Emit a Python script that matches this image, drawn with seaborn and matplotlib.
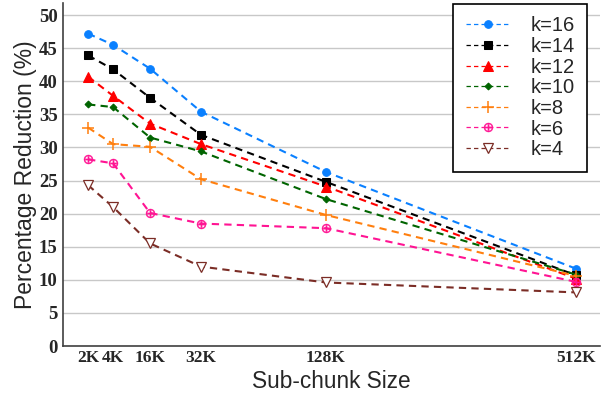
import numpy as np
import pandas as pd
import matplotlib
matplotlib.use("Agg")
import matplotlib.pyplot as plt
import seaborn as sns

# Data
sizes = ["2K", "4K", "16K", "32K", "128K", "512K"]
# horizontal placement of the size ticks on the axis (the original spacing is hand tuned)
x_pos = [25, 50, 87, 138, 263, 513]

k16 = [47.2, 45.5, 41.9, 35.4, 26.3, 11.7]
k14 = [43.9, 41.8, 37.5, 31.9, 24.8, 10.7]
k12 = [40.7, 37.8, 33.6, 30.5, 24.1, 10.2]
k10 = [36.5, 36.1, 31.5, 29.4, 22.2, 10.8]
k8 = [33.0, 30.5, 30.1, 25.2, 19.8, 10.6]
k6 = [28.2, 27.6, 20.1, 18.5, 17.8, 9.7]
k4 = [24.3, 21.0, 15.5, 12.0, 9.6, 8.1]

series = [
    ("k=16", k16, "#0a80ff", "o", dict(markersize=5.5)),
    ("k=14", k14, "black", "s", dict(markersize=5.5)),
    ("k=12", k12, "#ff0000", "^", dict(markersize=6.5)),
    ("k=10", k10, "#006400", "D", dict(markersize=3.5)),
    ("k=8", k8, "#ff7f0e", "+", dict(markersize=9, markeredgewidth=1.1)),
    ("k=6", k6, "#ff1493", r"$\oplus$", dict(markersize=6.5, markeredgewidth=0.3)),
    ("k=4", k4, "#7b2d26", "v", dict(markersize=7, markerfacecolor="white",
                                      markeredgewidth=0.9)),
]

sns.set_style("whitegrid")
plt.rcParams["font.family"] = ["Liberation Sans", "DejaVu Sans"]

fig, ax = plt.subplots(figsize=(6.07, 3.95), dpi=100)
fig.subplots_adjust(left=0.104, right=0.988, top=0.992, bottom=0.124)

for name, vals, color, marker, kw in series:
    df = pd.DataFrame({"x": x_pos, "y": vals})
    sns.lineplot(data=df, x="x", y="y", ax=ax, color=color, marker=marker,
                 linestyle=(0, (3.5, 2.5)), linewidth=1.5, label=name,
                 markeredgecolor=color, **kw)

ax.set_xlim(0, 537)
ax.set_ylim(0, 51.8)
ax.set_yticks(np.arange(0, 51, 5))
ax.set_xticks(x_pos)
ax.set_xticklabels(sizes)
for lab in ax.get_yticklabels():
    lab.set_family(["Liberation Serif", "DejaVu Serif"])
    lab.set_fontweight("bold")
    lab.set_fontsize(13.5)
for lab in ax.get_xticklabels():
    lab.set_family(["Liberation Serif", "DejaVu Serif"])
    lab.set_fontweight("bold")
    lab.set_fontsize(12.5)

ax.tick_params(axis="y", length=3, width=1, color="#404040", pad=1)
ax.tick_params(axis="x", length=0, pad=3)
ax.grid(axis="x", visible=False)
ax.grid(axis="y", color="#c8c8c8", linewidth=1.0)
ax.set_facecolor("white")
for side in ["top", "right"]:
    ax.spines[side].set_visible(False)
for side in ["left", "bottom"]:
    ax.spines[side].set_color("#404040")
    ax.spines[side].set_linewidth(1.2)

ax.set_xlabel("Sub-chunk Size", fontsize=16.3, labelpad=3)
ax.set_ylabel("Percentage Reduction (%)", fontsize=16.5, labelpad=1)

leg = ax.legend(loc="upper right", fontsize=14.5, frameon=True, fancybox=False,
                edgecolor="black", framealpha=1, handlelength=2.2,
                labelspacing=0.08, borderpad=0.62, handletextpad=1.0,
                borderaxespad=0,
                bbox_to_anchor=(587 / 607, 1 - 4 / 395),
                bbox_transform=fig.transFigure)
leg.get_frame().set_linewidth(1.2)
for line in leg.get_lines():
    line.set_linewidth(0.9)

fig.savefig("out.png", dpi=100)
